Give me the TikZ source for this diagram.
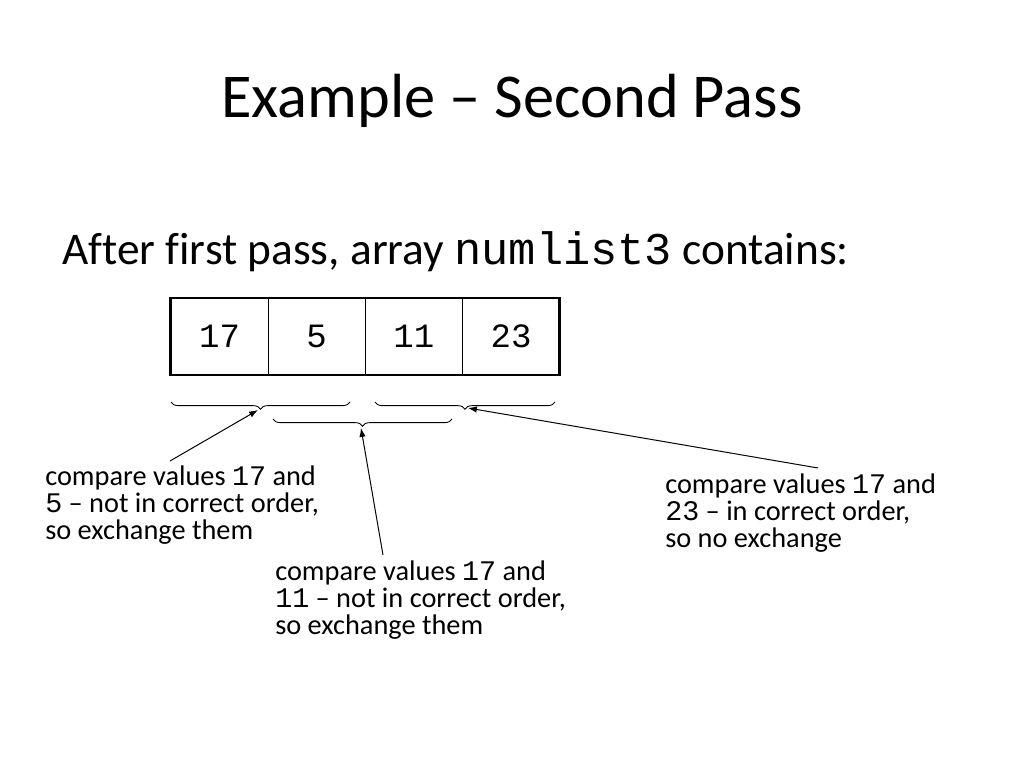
\documentclass[tikz,border=0pt]{standalone}
\usepackage{fontspec}
\setmainfont{Carlito}[Ligatures={TeX,NoCommon}]
\setmonofont{Liberation Mono}
\usetikzlibrary{positioning,arrows.meta,decorations.pathreplacing}

\begin{document}
\begin{tikzpicture}[x=0.0248cm, y=-0.0248cm, >={Latex[length=2.2mm,width=1.6mm]}, node distance=0pt, cell/.style={draw, line width=0.8pt, minimum width=2.41cm, minimum height=1.91cm, inner sep=0pt, outer sep=0pt, font=\fontsize{24}{28}\ttfamily}, note/.style={anchor=base west, inner sep=0pt, align=left, font=\fontsize{20}{18.8}\selectfont}, curly/.style={decorate, decoration={brace, amplitude=0.18cm}, line width=0.6pt}, pointer/.style={->, line width=0.7pt}]

\useasboundingbox (0,0) rectangle (1024,768);

\node[anchor=base, font=\fontsize{44}{53}\selectfont] (title) at (512,118) {Example -- Second Pass};
\node[anchor=base west, inner sep=0pt, font=\fontsize{32}{38}\selectfont] (intro) at (62,264) {After first pass, array \texttt{numlist3} contains:};

% the array
\node[cell] (c1) at (219.5,336.5) {17};
\node[cell, right=of c1] (c2) {5};
\node[cell, right=of c2] (c3) {11};
\node[cell, right=of c3] (c4) {23};
\draw[line width=2pt] (c1.north west) rectangle (c4.south east);

% braces under each compared pair
\draw[curly] (350,402) -- (171,402);
\draw[curly] (452,419) -- (273,419);
\draw[curly] (555,402) -- (375,402);

% base of a note is its last line
\node[note] (n1) at (45,539) {compare values \texttt{17} and\\\texttt{5} -- not in correct order,\\so exchange them};
\node[note] (n2) at (275,634) {compare values \texttt{17} and\\\texttt{11} -- not in correct order,\\so exchange them};
\node[note] (n3) at (665,547) {compare values \texttt{17} and\\\texttt{23} -- in correct order,\\so no exchange};

\coordinate (t1) at (170,461);
\coordinate (h1) at (258,410);
\coordinate (t2) at (383,555);
\coordinate (h2) at (361,428);
\coordinate (t3) at (818,468);
\coordinate (h3) at (468,408);

\draw[pointer] (t1) -- (h1);
\draw[pointer] (t2) -- (h2);
\draw[pointer] (t3) -- (h3);
\end{tikzpicture}
\end{document}
